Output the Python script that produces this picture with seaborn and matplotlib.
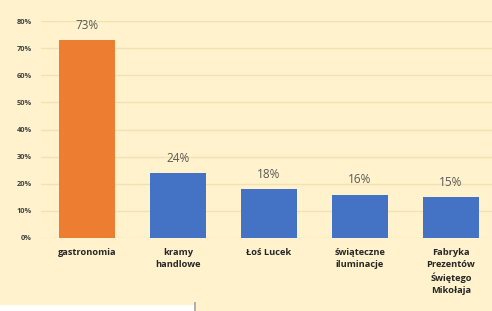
import matplotlib
matplotlib.use("Agg")
import matplotlib.pyplot as plt
import seaborn as sns
import pandas as pd
from matplotlib.patches import Rectangle
from matplotlib.ticker import PercentFormatter

# dane z wykresu
kategorie = ["gastronomia", "kramy\nhandlowe", "Łoś Lucek",
             "świąteczne\niluminacje", "Fabryka\nPrezentów\nŚwiętego\nMikołaja"]
wartosci = [73, 24, 18, 16, 15]
kolory = ["#ED7D31", "#4472C4", "#4472C4", "#4472C4", "#4472C4"]
y_ticki = [0, 10, 20, 30, 40, 50, 60, 70, 80]

tlo = "#FFF2CC"

sns.set_theme(style="white")
plt.rcParams['font.family'] = ['Open Sans', 'DejaVu Sans']

df = pd.DataFrame({"kategoria": kategorie, "wartosc": wartosci})

fig = plt.figure(figsize=(4.92, 3.11), dpi=100, facecolor=tlo)
ax = fig.add_axes([0.084, 0.235, 0.925, 0.697])
ax.set_facecolor(tlo)

sns.barplot(data=df, x="kategoria", y="wartosc", hue="kategoria",
            palette=kolory, legend=False, width=0.62, saturation=1,
            linewidth=0, edgecolor="none", ax=ax, zorder=3)

ax.set_ylim(0, 80)
ax.set_xlim(-0.5, 4.5)
ax.set_yticks(y_ticki)
ax.yaxis.set_major_formatter(PercentFormatter(decimals=0))
ax.grid(axis="y", color="#F3E2B0", linewidth=1.0, zorder=0)
for s in ax.spines.values():
    s.set_visible(False)

ax.tick_params(axis="y", length=0, pad=7, labelsize=5.3, labelcolor="#404040")
for lab in ax.get_yticklabels():
    lab.set_fontweight("bold")
ax.tick_params(axis="x", length=0, pad=7, labelsize=6.7, labelcolor="#262626")
for lab in ax.get_xticklabels():
    lab.set_fontweight("bold")
    lab.set_linespacing(1.45)
ax.set_xlabel("")
ax.set_ylabel("")

for i, v in enumerate(wartosci):
    ax.text(i, v + 3, f"{v}%", ha="center", va="bottom",
            fontsize=8.5, color="#595959")

# biały prostokąt w lewym dolnym rogu
fig.patches.append(Rectangle((0, 0), 0.395, 0.02, transform=fig.transFigure,
                             facecolor="white", edgecolor="none"))
fig.patches.append(Rectangle((0.395, 0), 0.003, 0.03, transform=fig.transFigure,
                             facecolor="#B0B0B0", edgecolor="none"))

fig.savefig("out.png", dpi=100, facecolor=tlo)
